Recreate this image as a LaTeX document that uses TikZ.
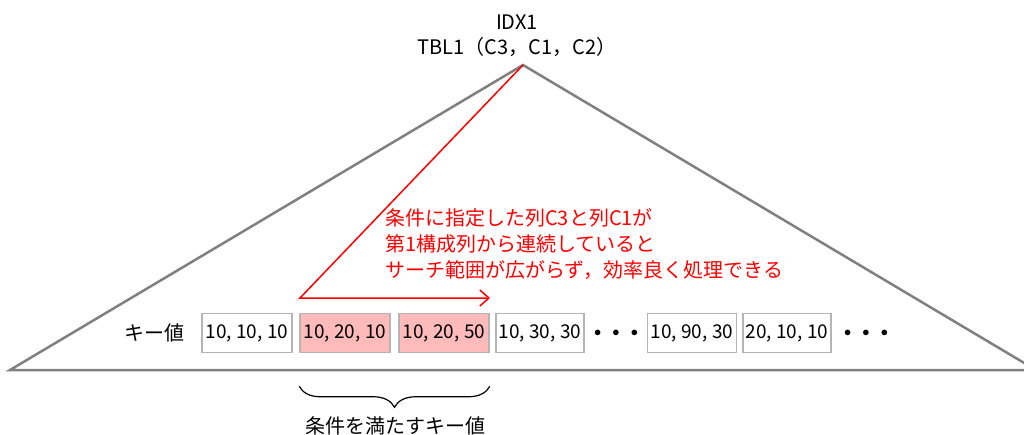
\documentclass[tikz,border=0pt]{standalone}
\usepackage{fontspec}
\setmainfont{Noto Sans CJK JP}
\usetikzlibrary{arrows.meta}
\usetikzlibrary{decorations.pathreplacing}

\definecolor{edgegray}{HTML}{808080}
\definecolor{boxgray}{HTML}{B4B4B4}
\definecolor{hitpink}{HTML}{FFBABA}
\definecolor{notered}{HTML}{FF0000}

\tikzset{
  keybox/.style={draw=boxgray, line width=1.5pt, fill=white, minimum width=90pt,
    minimum height=39pt, inner sep=0pt, font=\fontsize{19}{20}\selectfont},
  hitbox/.style={keybox, fill=hitpink},
  plain/.style={font=\fontsize{20}{26}\selectfont, inner sep=0pt},
  rednote/.style={plain, text=notered, align=left},
  dots/.style={font=\fontsize{14}{20}\selectfont, inner sep=0pt}
}

\begin{document}
\begin{tikzpicture}[x=1pt, y=-1pt]
\useasboundingbox (0,0) rectangle (1024,434);
\clip (0,0) rectangle (1024,434);
% index tree
\coordinate (top) at (523,65);
\coordinate (bl) at (10,370);
\coordinate (br) at (1036,370);
\draw[edgegray, line width=2.5pt, line join=miter] (bl) -- (top) -- (br) -- cycle;
\node[plain] (idx) at (517,22) {IDX1};
\node[plain] (tbl) at (517,47) {TBL1（C3，C1，C2）};

% key values
\node[plain] (lbl) at (154,333) {キー値};
\node[keybox] (k1) at (247,333) {10, 10, 10};
\node[hitbox] (k2) at (345,333) {10, 20, 10};
\node[hitbox] (k3) at (444,333) {10, 20, 50};
\node[keybox, minimum width=88pt] (k4) at (540,333) {10, 30, 30};
\node[dots] (d1) at (616,333) {$\bullet\;\;\bullet\;\;\bullet$};
\node[keybox, minimum width=89pt] (k5) at (692,333) {10, 90, 30};
\node[keybox, minimum width=88pt] (k6) at (787,333) {20, 10, 10};
\node[dots] (d2) at (866,333) {$\bullet\;\;\bullet\;\;\bullet$};

% search path
\coordinate (turn) at (300,298);
\coordinate (stop) at (490,298);
\draw[notered, line width=1.5pt, -{Straight Barb[length=9pt,width=16pt,line width=1.5pt]}]
  (top) -- (turn) -- (stop);
\node[rednote, anchor=north west] (note) at (385,208)
  {条件に指定した列C3と列C1が\\第1構成列から連続していると\\サーチ範囲が広がらず，効率良く処理できる};

% matching keys
\draw[line width=1.2pt, decorate, decoration={brace, mirror, amplitude=21pt}]
  ([yshift=-33pt]k2.south west) -- ([yshift=-33pt]k3.south east);
\node[plain] (hit) at (395,426) {条件を満たすキー値};
\end{tikzpicture}
\end{document}
